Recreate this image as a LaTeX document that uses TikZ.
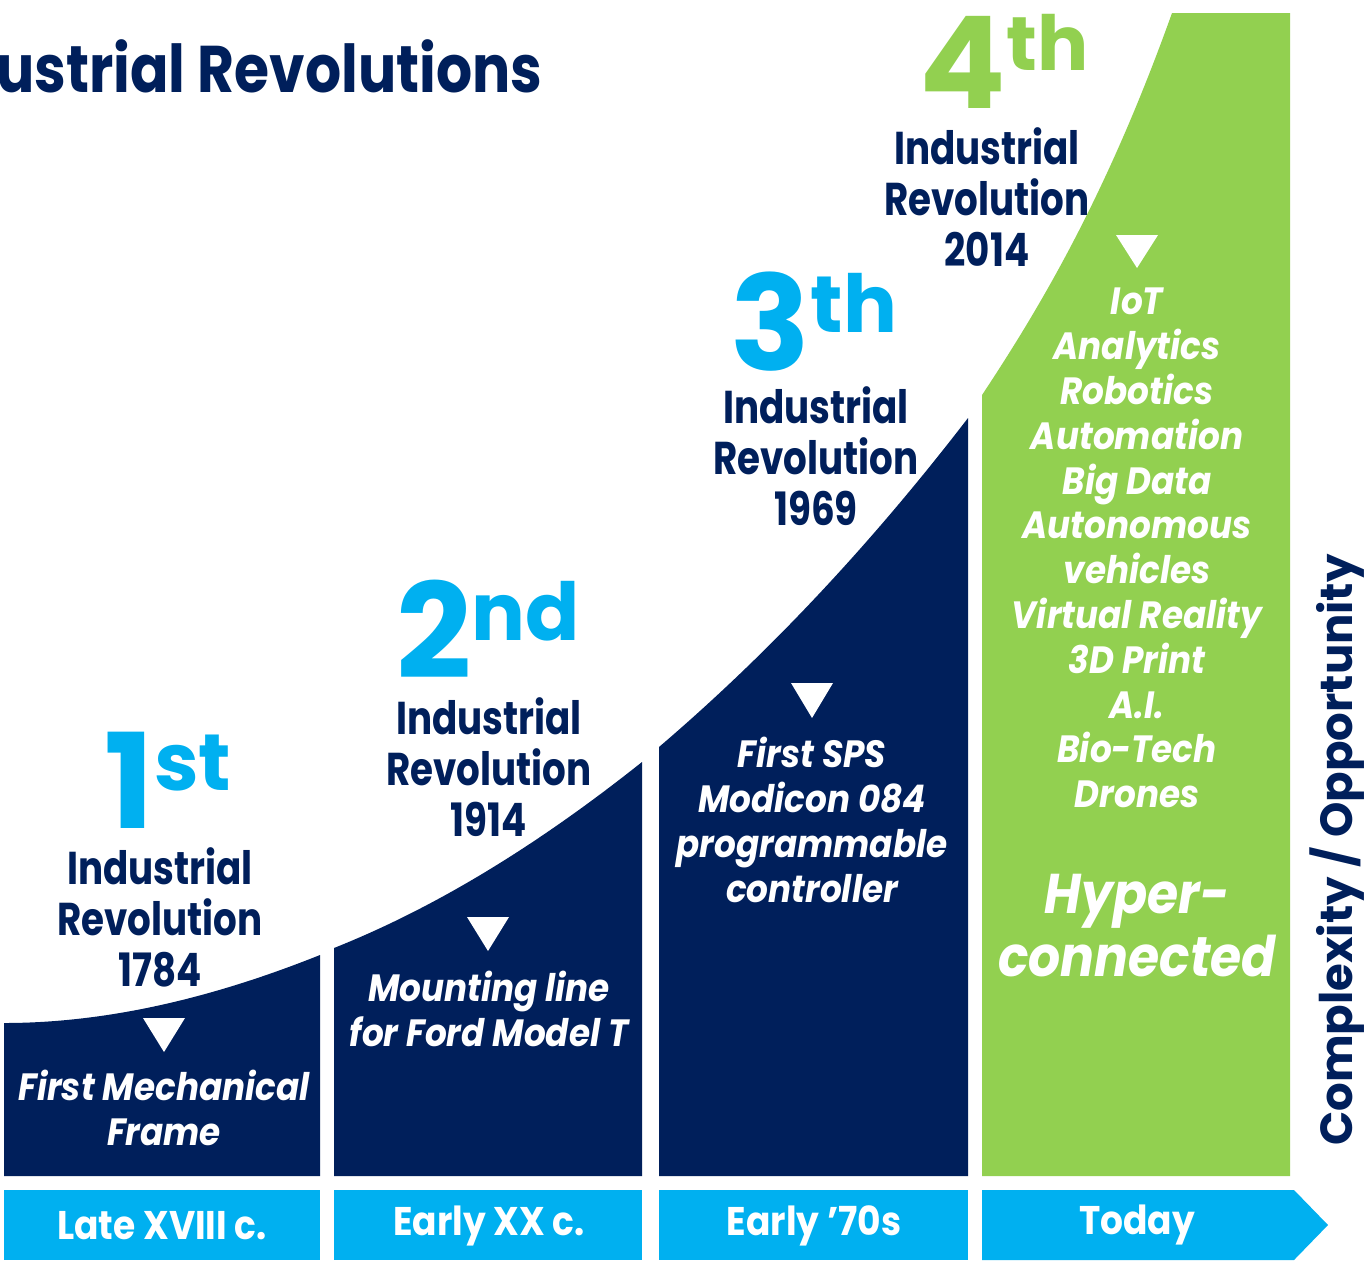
\documentclass[tikz,border=0pt]{standalone}
\usepackage{fontspec}
\setmainfont{Poppins}
\newfontfamily\headfont{Poppins}[FakeStretch=0.81]
\newfontfamily\titlefont{Poppins}[FakeStretch=0.86]
\newfontfamily\itemfont{Poppins}[FakeStretch=0.9]
\definecolor{navy}{RGB}{0,31,91}
\definecolor{sky}{RGB}{0,176,240}
\definecolor{lgreen}{RGB}{146,208,80}
\begin{document}
\begin{tikzpicture}[x=0.5pt,y=-0.5pt,
  head/.style={text=navy, font=\headfont\bfseries\fontsize{23}{25.5}\selectfont, align=center, inner sep=0pt},
  item/.style={text=white, font=\itemfont\bfseries\itshape\fontsize{19}{22.4}\selectfont, align=center, inner sep=0pt},
  bartext/.style={text=white, font=\itemfont\bfseries\fontsize{20}{22}\selectfont, inner sep=0pt},
  ordnum/.style={font=\bfseries, inner sep=0pt, anchor=base, text depth=0pt},
  tri/.style={fill=white}]
\useasboundingbox (0,0) rectangle (1370,1260);
% blocks
\fill[navy] (4,1176) -- (4,1023) .. controls (109,1023) and (215,997) .. (320,955) -- (320,1176) -- cycle;
\fill[navy] (334,1176) -- (334,948) .. controls (437,907) and (539,844) .. (642,762) -- (642,1176) -- cycle;
\fill[navy] (659,1176) -- (659,747) .. controls (762,659) and (865,552) .. (968,418) -- (968,1176) -- cycle;
\fill[lgreen] (982,1176) -- (982,395) .. controls (1045,300) and (1109,189) .. (1172,13) -- (1290,13) -- (1290,1176) -- cycle;
% bottom bars
\fill[sky] (4,1190) rectangle (320,1260);
\fill[sky] (334,1190) rectangle (642,1260);
\fill[sky] (659,1190) rectangle (968,1260);
\fill[sky] (982,1190) -- (1294,1190) -- (1328,1225) -- (1294,1260) -- (982,1260) -- cycle;
% triangles
\fill[tri] (143,1018) -- (185,1018) -- (164,1052) -- cycle;
\fill[tri] (467,917) -- (509,917) -- (488,951) -- cycle;
\fill[tri] (791,683) -- (833,683) -- (812,718) -- cycle;
\fill[tri] (1116,235) -- (1158,235) -- (1137,268) -- cycle;
% title
\node[text=navy, font=\titlefont\bfseries\fontsize{33}{36}\selectfont, anchor=base west, inner sep=0pt] (title) at (-4,92) {ustrial Revolutions};
% ordinals
\node[ordnum, text=sky] (o1) at (168,828) {\fontsize{66}{66}\selectfont 1\fontsize{40}{40}\selectfont\raisebox{19pt}{st}};
\node[ordnum, text=sky] (o2) at (488,678) {\fontsize{66}{66}\selectfont 2\fontsize{40}{40}\selectfont\raisebox{19pt}{nd}};
\node[ordnum, text=sky] (o3) at (814,370) {\fontsize{66}{66}\selectfont 3\fontsize{40}{40}\selectfont\raisebox{19pt}{th}};
\node[ordnum, text=lgreen] (o4) at (1004,108) {\fontsize{64}{64}\selectfont 4\fontsize{38}{38}\selectfont\raisebox{19pt}{th}};
% headings
\node[head] (h1) at (160,917) {Industrial\\Revolution\\1784};
\node[head] (h2) at (489,767) {Industrial\\Revolution\\1914};
\node[head] (h3) at (816,456) {Industrial\\Revolution\\1969};
\node[head] (h4) at (987,197) {Industrial\\Revolution\\2014};
% items
\node[item] (i1) at (164,1108) {First Mechanical\\Frame};
\node[item] (i2) at (489,1009) {Mounting line\\for Ford Model T};
\node[item] (i3) at (812,820) {First SPS\\Modicon 084\\programmable\\controller};
\node[item] (i4) at (1137,548) {IoT\\Analytics\\Robotics\\Automation\\Big Data\\Autonomous\\vehicles\\Virtual Reality\\3D Print\\A.I.\\Bio-Tech\\Drones};
\node[item, font=\itemfont\bfseries\itshape\fontsize{28}{31.5}\selectfont] (hyper) at (1137,926) {Hyper-\\connected};
% bar texts
\node[bartext] (b1) at (162,1226) {Late XVIII c.};
\node[bartext] (b2) at (489,1226) {Early XX c.};
\node[bartext] (b3) at (814,1226) {Early ’70s};
\node[bartext] (b4) at (1137,1225) {Today};
% axis label
\node[text=navy, font=\bfseries\fontsize{22.5}{25}\selectfont, rotate=90, inner sep=0pt] (axis) at (1337,850) {Complexity / Opportunity};
\end{tikzpicture}
\end{document}
